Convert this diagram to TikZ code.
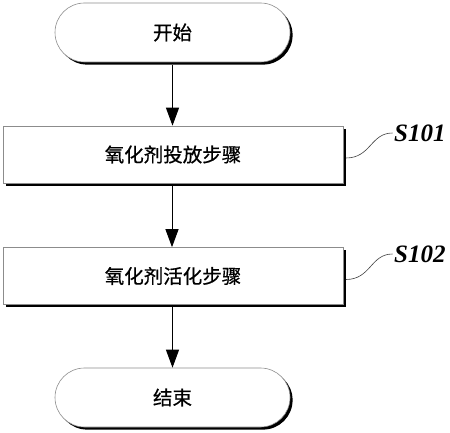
\documentclass[tikz,border=0pt]{standalone}
\usepackage{fontspec}
\setmainfont{Liberation Serif}
\newfontfamily\cjk[FakeBold=0.6]{Noto Sans CJK SC}
\usetikzlibrary{arrows.meta,shapes.misc,shadows}
\tikzset{
  shadowed/.style={general shadow={shadow xshift=2.6pt, shadow yshift=-2.6pt, fill=black}},
  terminal/.style={rounded rectangle, minimum width=235pt, minimum height=59pt, draw=black!45, line width=0.6pt, fill=white, shadowed, font=\cjk\fontsize{19.5}{21}\selectfont, inner sep=0pt},
  stepbox/.style={rectangle, minimum width=340pt, minimum height=57pt, draw=black!45, line width=0.6pt, fill=white, shadowed, font=\cjk\fontsize{19.5}{21}\selectfont, inner sep=0pt},
  flow/.style={line width=1pt, -{Triangle[length=18pt,width=13pt]}},
  steplabel/.style={font=\bfseries\itshape\fontsize{25}{27}\selectfont, inner sep=0pt, anchor=west},
  wave/.style={line width=0.6pt, black!75}
}
\begin{document}
\begin{tikzpicture}[x=1pt,y=-1pt]
\useasboundingbox (0,0) rectangle (450,433);
\node[terminal] (start) at (172.5,32.5) {开始};
\node[stepbox] (b1) at (173,154.5) {氧化剂投放步骤};
\node[stepbox] (b2) at (173,276) {氧化剂活化步骤};
\node[terminal] (end) at (172.5,397.5) {结束};
\node[steplabel] (s1) at (394,133) {S101};
\node[steplabel] (s2) at (394,254) {S102};
\draw[flow] ([yshift=-2.6pt]start.south) -- (start.south |- b1.north);
\draw[flow] ([shift={(-1pt,-2.6pt)}]b1.south) -- ([xshift=-1pt]b2.north);
\draw[flow] ([shift={(-0.5pt,-2.6pt)}]b2.south) -- (end.north);
\draw[wave] ([shift={(2.6pt,-3.5pt)}]b1.east) .. controls +(25,0) and +(-22,0) .. ([xshift=-1.5pt]s1.west);
\draw[wave] ([shift={(2.6pt,-3.5pt)}]b2.east) .. controls +(25,0) and +(-22,0) .. ([xshift=-1.5pt]s2.west);
\end{tikzpicture}
\end{document}
